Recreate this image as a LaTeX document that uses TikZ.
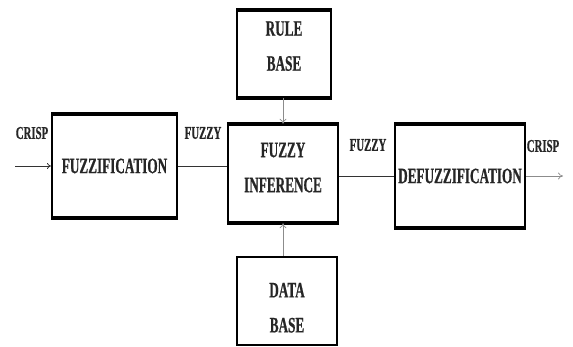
\documentclass[tikz,border=0pt]{standalone}
\usepackage{fontspec}
\usetikzlibrary{arrows.meta}
\newfontfamily\blockfont{Liberation Serif Bold}[FakeStretch=0.6, FakeBold=0.6]

\tikzset{
  blockbox/.style={draw, line width=2pt, align=center, inner sep=0pt,
    font=\blockfont\fontsize{22}{35}\selectfont, text=black!85},
  flowlabel/.style={font=\blockfont\fontsize{18}{20}\selectfont, text=black!85},
  flow/.style={line width=0.8pt, black!80},
  feed/.style={line width=0.7pt, black!45, -{To[length=5pt,width=7pt]}}
}

\begin{document}
\begin{tikzpicture}[x=1pt, y=-1pt]
\useasboundingbox (0,0) rectangle (573,347);

% processing blocks
\node[blockbox, minimum width=125pt, minimum height=102pt] (fuzz) at (114.5,166) {FUZZIFICATION};
\node[blockbox, minimum width=94pt, minimum height=86pt] (rule) at (284,54) {RULE\\BASE\\[-19pt]};
\node[blockbox, line width=2.5pt, minimum width=110pt, minimum height=97pt] (infer) at (283,173.5) {FUZZY\\INFERENCE\\[-23pt]};
\node[blockbox, minimum width=100pt, minimum height=88pt] (data) at (287,301) {\rule{0pt}{28pt}DATA\\BASE};
\node[blockbox, minimum width=130pt, minimum height=102pt] (defuzz) at (460,176) {DEFUZZIFICATION};

% heavier top and bottom edges
\foreach \b in {fuzz, defuzz, rule, infer}{
  \draw[line width=4pt] (\b.north west) -- (\b.north east);
  \draw[line width=4pt] (\b.south west) -- (\b.south east);
}

% signal path
\coordinate (in) at (15,166);
\coordinate (out) at (563,176);
\draw[flow, -{To[length=4pt,width=6pt]}] (in) -- (fuzz.west);
\draw[flow] (fuzz.east) -- (infer.west |- fuzz.east);
\draw[flow] (infer.east |- defuzz.west) -- (defuzz.west);
\draw[feed] (defuzz.east) -- (out);

% knowledge inputs
\draw[feed] (rule.south -| infer.north) -- (infer.north);
\draw[feed] (data.north -| infer.south) -- (infer.south);

% signal labels
\node[flowlabel] (crispin) at (32,133) {CRISP};
\node[flowlabel] (fuzzyin) at (203,133) {FUZZY};
\node[flowlabel] (fuzzyout) at (368,145) {FUZZY};
\node[flowlabel] (crispout) at (543,146) {CRISP};
\end{tikzpicture}
\end{document}
